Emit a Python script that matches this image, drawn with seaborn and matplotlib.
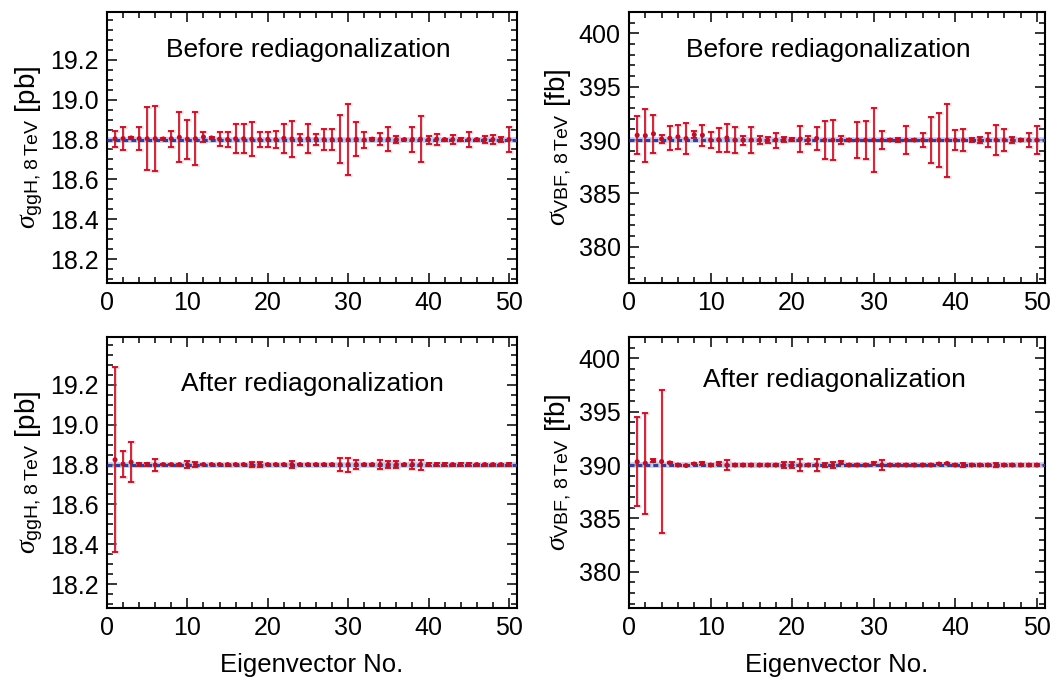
import matplotlib
matplotlib.use("Agg")
import matplotlib.pyplot as plt
from matplotlib.ticker import MultipleLocator, FormatStrFormatter
import seaborn as sns

# ---------------------------------------------------------------- data
eigenvector = list(range(1, 51))

ggh_center = 18.80
vbf_center = 390.0

ggh_before_val = [18.804, 18.805, 18.808, 18.805, 18.804, 18.804, 18.803, 18.804, 18.811, 18.802,
                  18.804, 18.813, 18.808, 18.802, 18.800, 18.804, 18.804, 18.802, 18.800, 18.801,
                  18.800, 18.806, 18.803, 18.802, 18.804, 18.802, 18.800, 18.800, 18.801, 18.799,
                  18.802, 18.798, 18.802, 18.802, 18.802, 18.800, 18.800, 18.801, 18.802, 18.800,
                  18.802, 18.800, 18.800, 18.800, 18.800, 18.800, 18.800, 18.800, 18.800, 18.800]
ggh_before_err = [0.041, 0.058, 0.005, 0.058, 0.158, 0.163, 0.005, 0.041, 0.125, 0.098,
                  0.133, 0.027, 0.005, 0.035, 0.037, 0.074, 0.074, 0.085, 0.037, 0.038,
                  0.045, 0.073, 0.092, 0.027, 0.074, 0.027, 0.053, 0.053, 0.121, 0.179,
                  0.085, 0.040, 0.005, 0.031, 0.060, 0.017, 0.004, 0.063, 0.115, 0.020,
                  0.027, 0.005, 0.022, 0.006, 0.037, 0.005, 0.017, 0.022, 0.012, 0.062]

ggh_after_val = [18.824, 18.802, 18.812, 18.801, 18.801, 18.798, 18.800, 18.800, 18.800, 18.800,
                 18.800, 18.800, 18.800, 18.800, 18.800, 18.800, 18.800, 18.800, 18.800, 18.800,
                 18.800, 18.800, 18.800, 18.800, 18.800, 18.800, 18.800, 18.800, 18.800, 18.800,
                 18.800, 18.800, 18.800, 18.800, 18.800, 18.800, 18.800, 18.800, 18.800, 18.800,
                 18.800, 18.800, 18.800, 18.800, 18.800, 18.800, 18.800, 18.800, 18.800, 18.800]
ggh_after_err = [0.464, 0.065, 0.099, 0.007, 0.007, 0.028, 0.004, 0.004, 0.005, 0.017,
                 0.014, 0.004, 0.004, 0.004, 0.005, 0.004, 0.004, 0.014, 0.013, 0.004,
                 0.004, 0.004, 0.018, 0.004, 0.004, 0.004, 0.004, 0.004, 0.031, 0.035,
                 0.022, 0.004, 0.004, 0.024, 0.019, 0.019, 0.004, 0.023, 0.025, 0.006,
                 0.006, 0.007, 0.005, 0.006, 0.006, 0.005, 0.005, 0.005, 0.005, 0.006]

vbf_before_val = [390.45, 390.41, 390.58, 390.10, 390.17, 390.30, 390.14, 390.50, 390.45, 390.00,
                  390.03, 390.20, 390.00, 390.00, 390.00, 390.00, 390.00, 390.00, 390.05, 390.05,
                  390.10, 390.00, 390.15, 390.00, 390.00, 390.00, 390.00, 390.00, 390.00, 390.00,
                  390.00, 390.00, 390.00, 390.00, 390.00, 390.00, 390.00, 390.00, 390.00, 390.00,
                  390.00, 390.00, 390.00, 390.00, 390.00, 390.00, 390.00, 390.00, 390.00, 390.00]
vbf_before_err = [1.77, 2.50, 1.79, 0.38, 1.14, 1.12, 1.41, 0.30, 1.00, 0.76,
                  1.14, 1.33, 1.20, 0.42, 1.20, 0.36, 0.30, 0.70, 0.20, 0.10,
                  1.20, 0.40, 1.06, 1.80, 1.90, 0.38, 0.10, 1.67, 1.82, 3.00,
                  0.83, 0.10, 0.20, 1.32, 0.10, 0.65, 2.15, 2.55, 3.42, 0.90,
                  1.03, 0.17, 0.30, 0.68, 1.44, 1.00, 0.26, 0.10, 0.65, 1.29]

vbf_after_val = [390.31, 390.17, 390.40, 390.33, 390.20, 390.00, 389.95, 390.10, 390.15, 390.00,
                 390.15, 389.98, 390.00, 390.00, 390.00, 390.00, 390.00, 390.00, 390.00, 390.00,
                 389.98, 390.00, 390.00, 390.00, 390.00, 390.20, 390.00, 390.00, 390.00, 390.15,
                 390.00, 390.00, 390.00, 390.00, 390.00, 390.00, 390.00, 390.10, 390.15, 390.00,
                 390.00, 390.00, 390.00, 390.00, 390.00, 390.00, 390.00, 390.00, 390.00, 390.00]
vbf_after_err = [4.19, 4.75, 0.15, 6.68, 0.05, 0.10, 0.05, 0.05, 0.15, 0.05,
                 0.15, 0.45, 0.05, 0.05, 0.05, 0.05, 0.10, 0.05, 0.25, 0.25,
                 0.58, 0.05, 0.55, 0.15, 0.25, 0.15, 0.05, 0.05, 0.05, 0.15,
                 0.47, 0.05, 0.05, 0.05, 0.05, 0.05, 0.10, 0.05, 0.05, 0.05,
                 0.20, 0.05, 0.05, 0.05, 0.20, 0.05, 0.05, 0.05, 0.05, 0.05]

x_ticks = [0, 10, 20, 30, 40, 50]
ggh_ticks = [18.2, 18.4, 18.6, 18.8, 19.0, 19.2]
vbf_ticks = [380, 385, 390, 395, 400]

# ---------------------------------------------------------------- style
sns.set_theme(style="ticks")
plt.rcParams["font.family"] = ["Liberation Sans", "DejaVu Sans"]
plt.rcParams["mathtext.fontset"] = "custom"
plt.rcParams["mathtext.rm"] = "Liberation Sans"
plt.rcParams["mathtext.it"] = "Liberation Serif:italic"
plt.rcParams["mathtext.bf"] = "Liberation Sans:bold"

RED = "#B3132A"
HALO = "#EFB0B8"
BLUE = "#3A3D96"
LAVENDER = "#AEB2E2"

fig = plt.figure(figsize=(10.53, 6.82), dpi=100)

W_L, W_R = 410 / 1053, 416 / 1053
H = 271 / 682
positions = {
    "ggh_before": [107 / 1053, 1 - 283 / 682, W_L, H],
    "vbf_before": [629 / 1053, 1 - 283 / 682, W_R, H],
    "ggh_after": [107 / 1053, 1 - 608 / 682, W_L, H],
    "vbf_after": [629 / 1053, 1 - 608 / 682, W_R, H],
}


def panel(key, vals, errs, center, ylim, yticks, yminor, yfmt, ylabel,
          title, title_xy, xlabel=None):
    ax = fig.add_axes(positions[key])
    # central value reference line
    ax.axhline(center, color=LAVENDER, lw=4.0, alpha=0.7, zorder=1)
    # error bars with a soft halo
    ax.errorbar(eigenvector, vals, yerr=errs, fmt="none", ecolor=HALO,
                elinewidth=2.4, capsize=2.6, capthick=2.4, alpha=0.6, zorder=2)
    ax.axhline(center, color=BLUE, lw=2.2, ls=(0, (1.6, 1.0)), zorder=3)
    ax.errorbar(eigenvector, vals, yerr=errs, fmt="none", ecolor=RED,
                elinewidth=1.2, capsize=2.2, capthick=1.3, zorder=4)
    sns.scatterplot(x=eigenvector, y=vals, ax=ax, color=RED, s=13,
                    edgecolor="none", linewidth=0, zorder=5, legend=False)

    ax.set_xlim(0, 51)
    ax.set_ylim(*ylim)
    ax.set_xticks(x_ticks)
    ax.xaxis.set_minor_locator(MultipleLocator(2))
    ax.set_yticks(yticks)
    ax.yaxis.set_major_formatter(FormatStrFormatter(yfmt))
    ax.yaxis.set_minor_locator(MultipleLocator(yminor))
    ax.tick_params(which="both", direction="in", top=True, right=True,
                   color="black", width=1.1, labelsize=18, labelcolor="black")
    ax.tick_params(which="major", length=7, pad=6)
    ax.tick_params(which="minor", length=4)
    for s in ax.spines.values():
        s.set_visible(True)
        s.set_color("black")
        s.set_linewidth(1.5)

    ax.set_ylabel(ylabel, fontsize=20, color="black")
    ax.yaxis.set_label_coords(-0.152 if key.startswith("ggh") else -0.132, 0.5)
    if xlabel:
        ax.set_xlabel(xlabel, fontsize=18.5, color="black", labelpad=9)
    ax.text(title_xy[0], title_xy[1], title, transform=ax.transAxes,
            ha="center", va="center", fontsize=19, color="black")
    return ax


ggh_label = r"$\sigma_{\mathrm{ggH,\,8\,TeV}}$ [pb]"
vbf_label = r"$\sigma_{\mathrm{VBF,\,8\,TeV}}$ [fb]"

panel("ggh_before", ggh_before_val, ggh_before_err, ggh_center, (18.08, 19.44),
      ggh_ticks, 0.05, "%.1f", ggh_label, "Before rediagonalization", (0.49, 0.86))
panel("vbf_before", vbf_before_val, vbf_before_err, vbf_center, (376.6, 402.0),
      vbf_ticks, 1, "%d", vbf_label, "Before rediagonalization", (0.48, 0.86))
panel("ggh_after", ggh_after_val, ggh_after_err, ggh_center, (18.08, 19.44),
      ggh_ticks, 0.05, "%.1f", ggh_label, "After rediagonalization", (0.50, 0.827),
      xlabel="Eigenvector No.")
panel("vbf_after", vbf_after_val, vbf_after_err, vbf_center, (376.6, 402.0),
      vbf_ticks, 1, "%d", vbf_label, "After rediagonalization", (0.493, 0.84),
      xlabel="Eigenvector No.")

fig.savefig("out.png", dpi=100, facecolor="white")
